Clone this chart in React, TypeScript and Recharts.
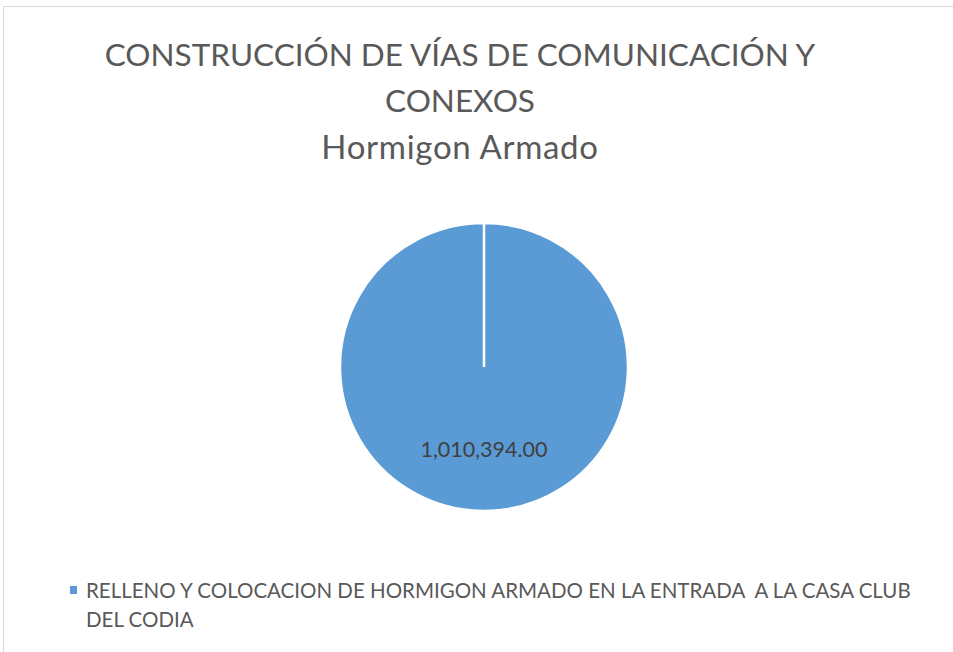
import React from 'react';
import { PieChart, Pie, Cell, Legend } from 'recharts';

const titleLines = ['CONSTRUCCIÓN DE VÍAS DE COMUNICACIÓN Y', 'CONEXOS'];
const subtitle = 'Hormigon Armado';
const categories = ['RELLENO Y COLOCACION DE HORMIGON ARMADO EN LA ENTRADA  A LA CASA CLUB DEL CODIA'];
const amounts = [1010394.0];
const COLORS = ['#5B9BD5'];

const FONT = 'Lato, "Open Sans", sans-serif';

const data = categories.map((name, i) => ({ name, value: amounts[i] }));

const formatAmount = (v: number) =>
  v.toLocaleString('en-US', { minimumFractionDigits: 2, maximumFractionDigits: 2 });

const renderLabel = (props: any) => {
  const { cx, cy, midAngle, outerRadius, value } = props;
  const RAD = Math.PI / 180;
  const r = outerRadius * 0.57;
  const x = cx + r * Math.cos(-midAngle * RAD);
  const y = cy + r * Math.sin(-midAngle * RAD);
  return (
    <text x={x} y={y} fill="#404040" textAnchor="middle" dominantBaseline="central" fontSize={21.5} fontFamily={FONT}>
      {formatAmount(value)}
    </text>
  );
};

const renderLegend = (props: any) => {
  const { payload } = props;
  return (
    <div style={{ fontFamily: FONT }}>
      {payload.map((entry: any, index: number) => (
        <div key={`legend-${index}`} style={{ display: 'flex', alignItems: 'flex-start' }}>
          <span
            style={{
              width: 7,
              height: 8,
              background: entry.color,
              marginTop: 10,
              marginRight: 9,
              flex: 'none',
            }}
          />
          <span
            style={{
              color: '#595959',
              fontSize: 20.5,
              lineHeight: '29px',
              whiteSpace: 'pre-wrap',
              width: 845,
              textAlign: 'left',
            }}
          >
            {entry.value}
          </span>
        </div>
      ))}
    </div>
  );
};

export default function App() {
  return (
    <div style={{ position: 'absolute', left: 0, top: 0, width: 953, height: 652, overflow: 'hidden', background: '#fff' }}>
      <div
        style={{
          position: 'absolute',
          left: 3,
          top: 6,
          width: 1000,
          height: 700,
          border: '1px solid #d9d9d9',
        }}
      />
      <div
        style={{
          position: 'absolute',
          left: 0,
          top: 31,
          width: 920,
          textAlign: 'center',
          fontFamily: FONT,
          color: '#595959',
          fontSize: 31.5,
          lineHeight: '46px',
        }}
      >
        {titleLines.map((t) => (
          <div key={t}>{t}</div>
        ))}
        <div style={{ fontSize: 33, letterSpacing: 0.7 }}>{subtitle}</div>
      </div>
      <div style={{ position: 'absolute', left: 0, top: 0 }}>
        <PieChart width={953} height={652} margin={{ top: 0, right: 0, bottom: 0, left: 0 }}>
          <Pie
            data={data}
            dataKey="value"
            nameKey="name"
            cx={484}
            cy={367}
            outerRadius={144}
            startAngle={90}
            endAngle={-270}
            stroke="#ffffff"
            strokeWidth={2.5}
            label={renderLabel}
            labelLine={false}
            isAnimationActive={false}
          >
            {data.map((_, index) => (
              <Cell key={`cell-${index}`} fill={COLORS[index % COLORS.length]} />
            ))}
          </Pie>
          <Legend
            content={renderLegend}
            wrapperStyle={{ left: 70, top: 576, width: 870 }}
          />
        </PieChart>
      </div>
    </div>
  );
}
